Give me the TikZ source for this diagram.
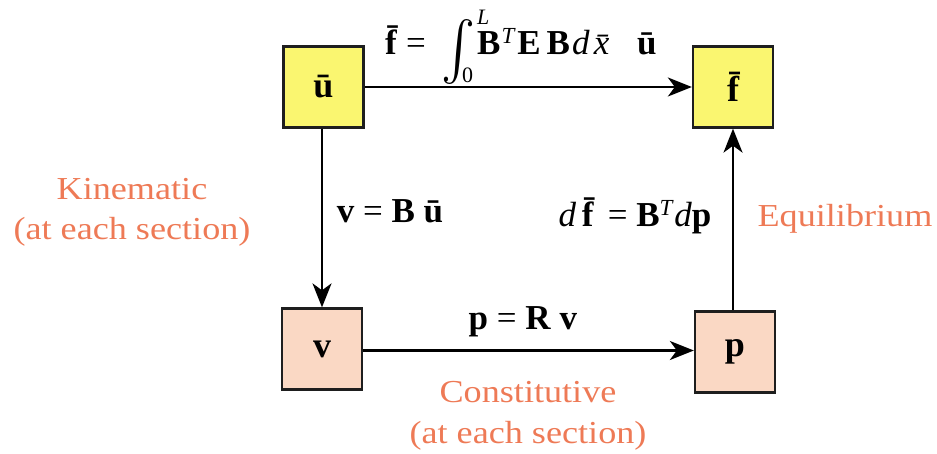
\documentclass[tikz,border=0pt]{standalone}
\usepackage{fontspec}
\usepackage{graphicx}
\setmainfont{Liberation Serif}
\newfontfamily\notefont[FakeStretch=1.13]{Liberation Serif}
\usetikzlibrary{arrows.meta}
\definecolor{boxyellow}{RGB}{250,246,112}
\definecolor{boxpeach}{RGB}{250,216,196}
\definecolor{labelorange}{RGB}{238,122,86}
\definecolor{boxline}{RGB}{30,30,30}
\tikzset{
  box/.style={draw=boxline, line width=2.3pt, minimum width=80pt, minimum height=81pt, inner sep=0pt, font=\fontsize{36}{40}\selectfont\bfseries},
  ybox/.style={box, fill=boxyellow},
  pbox/.style={box, fill=boxpeach},
  arr/.style={line width=2.2pt, -{Stealth[length=24pt, width=19pt, inset=7pt]}},
  eq/.style={inner sep=0pt, anchor=base, font=\fontsize{35}{40}\selectfont},
  eqw/.style={eq, anchor=base west},
  lim/.style={inner sep=0pt, anchor=base west, font=\fontsize{22}{24}\selectfont},
  note/.style={inner sep=0pt, anchor=base, text=labelorange, font=\notefont\fontsize{32}{40}\selectfont},
}
\newcommand{\supT}{\raisebox{11pt}{\fontsize{23}{24}\selectfont\itshape T}}
\begin{document}
\begin{tikzpicture}[x=1pt, y=1pt]
\useasboundingbox (0,0) rectangle (937,453);
\node[ybox] (u) at (323.5,366) {\=u};
\node[ybox] (f) at (733,366) {\=f};
\node[pbox] (v) at (322,104) {v};
\node[pbox] (p) at (735,101) {p};
\draw[arr] (u.east) -- (f.west);
\draw[arr] (u.south -| 322,0) -- (v.north -| 322,0);
\coordinate (vout) at ([yshift=-1.5pt]v.east);
\draw[arr] (vout) -- (vout -| p.west);
\draw[arr] (p.north -| 733,0) -- (f.south -| 733,0);
% top formula
\node[eqw] (topa) at (385,398) {\textbf{\=f}\kern4pt=};
\node[inner sep=0pt] (int) at (459,401) {\resizebox*{34pt}{65pt}{$\int$}};
\node[lim] (low) at (462,370) {0};
\node[lim] (up) at (477,428) {\itshape L};
\node[eqw] (topb) at (477,398) {\textbf{B}\kern1pt\supT\kern3pt\textbf{E}\kern6pt\textbf{B}};
\node[eqw] (topc) at (572,398) {\textit{d}\kern4pt\textit{\=x}};
\node[eqw] (topd) at (637,398) {\textbf{\=u}};
% side formulas
\node[eq] (eqkin) at (390,230) {\textbf{v} = \textbf{B} \textbf{\=u}};
\node[eq] (eqequ) at (635,226) {\textit{d}\,\textbf{\=f} = \textbf{B}\supT\kern2pt\textit{d}\textbf{p}};
\node[eq] (eqcon) at (523,124) {\textbf{p} = \textbf{R} \textbf{v}};
% orange labels
\node[note] (kin) at (132,253) {Kinematic};
\node[note] (kinb) at (132,213) {(at each section)};
\node[note] (equ) at (845,226) {Equilibrium};
\node[note] (con) at (528,51) {Constitutive};
\node[note] (conb) at (528,10) {(at each section)};
\end{tikzpicture}
\end{document}
